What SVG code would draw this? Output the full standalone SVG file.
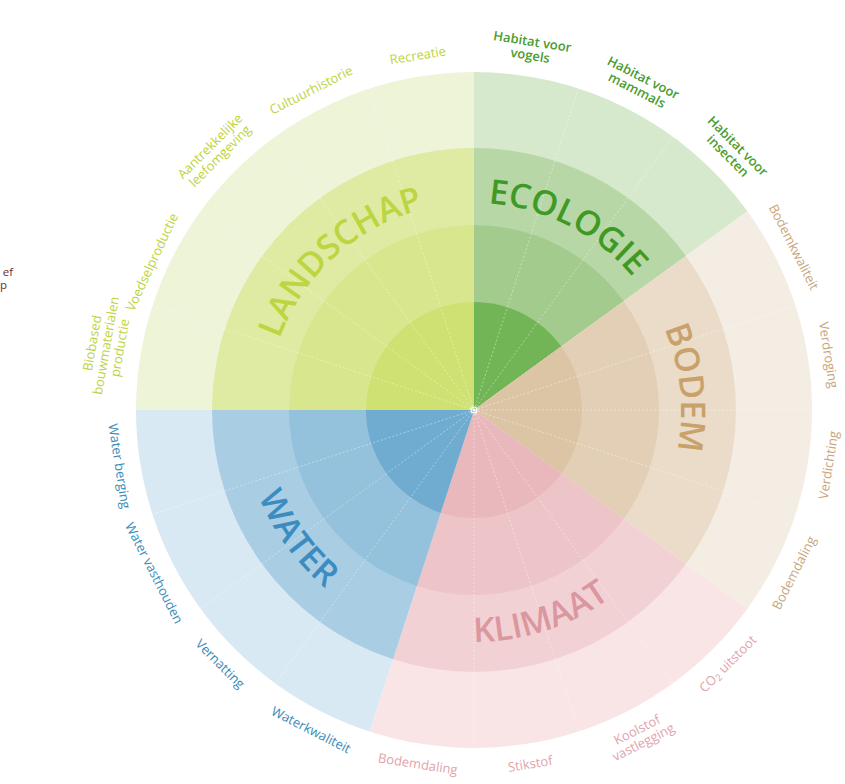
<svg xmlns="http://www.w3.org/2000/svg" width="845" height="784" viewBox="0 0 845 784">
<style>
.lbl{font-family:"Open Sans","Liberation Sans",sans-serif;font-size:13px;text-anchor:middle}
.ttl{font-family:"Open Sans","Liberation Sans",sans-serif;font-size:34px;font-weight:600;text-anchor:middle}
.ls{fill:#bcd442}.ec{fill:#4a9c2f;font-weight:600}.bo{fill:#c8a57a}.kl{fill:#e2a3ab}.wa{fill:#3b8ab8}
.grid{fill:none;stroke:#ffffff;stroke-opacity:0.45;stroke-width:0.9;stroke-dasharray:2 2}
</style>
<defs>
<path id="pLS" d="M271.52,453.04 A207,207 0 0 1 537.97,213.13"/>
<path id="pEC" d="M361.26,236.39 A207,207 0 0 1 680.72,399.17"/>
<path id="pBO" d="M558.20,220.90 A207,207 0 0 1 595.67,577.47"/>
<path id="pKL" d="M318.76,582.41 A232,232 0 0 0 700.93,458.24"/>
<path id="pWA" d="M262.06,315.64 A232,232 0 0 0 498.25,640.73"/>
</defs>
<rect width="845" height="784" fill="#ffffff"/>

<g id="landschap">
<path fill="#eef4d7" d="M474,410 L136,410 A338,338 0 0 1 474,72 Z"/>
<path fill="#dfeba3" d="M474,410 L212,410 A262,262 0 0 1 474,148 Z"/>
<path fill="#d8e78e" d="M474,410 L289,410 A185,185 0 0 1 474,225 Z"/>
<path fill="#cfe172" d="M474,410 L366,410 A108,108 0 0 1 474,302 Z"/>
</g>
<g id="ecologie">
<path fill="#d6e9cd" d="M474,410 L474,72 A338,338 0 0 1 747.448,211.329 Z"/>
<path fill="#b7d7a6" d="M474,410 L474,148 A262,262 0 0 1 685.962,256 Z"/>
<path fill="#a2cb8d" d="M474,410 L474,225 A185,185 0 0 1 623.668,301.26 Z"/>
<path fill="#72b557" d="M474,410 L474,302 A108,108 0 0 1 561.374,346.519 Z"/>
</g>
<g id="bodem">
<path fill="#f4ede3" d="M474,410 L747.448,211.329 A338,338 0 0 1 747.448,608.671 Z"/>
<path fill="#eadcc9" d="M474,410 L685.962,256 A262,262 0 0 1 685.962,564 Z"/>
<path fill="#e2cfb5" d="M474,410 L623.668,301.26 A185,185 0 0 1 623.668,518.74 Z"/>
<path fill="#dcc5a5" d="M474,410 L561.374,346.519 A108,108 0 0 1 561.374,473.481 Z"/>
</g>
<g id="klimaat">
<path fill="#f9e5e6" d="M474,410 L747.448,608.671 A338,338 0 0 1 369.552,731.457 Z"/>
<path fill="#f2d1d4" d="M474,410 L685.962,564 A262,262 0 0 1 393.038,659.177 Z"/>
<path fill="#edc4c8" d="M474,410 L623.668,518.74 A185,185 0 0 1 416.832,585.946 Z"/>
<path fill="#e9b8bd" d="M474,410 L561.374,473.481 A108,108 0 0 1 440.626,512.714 Z"/>
</g>
<g id="water">
<path fill="#d9e9f3" d="M474,410 L369.552,731.457 A338,338 0 0 1 136,410 Z"/>
<path fill="#a9cde3" d="M474,410 L393.038,659.177 A262,262 0 0 1 212,410 Z"/>
<path fill="#94c1db" d="M474,410 L416.832,585.946 A185,185 0 0 1 289,410 Z"/>
<path fill="#70abd0" d="M474,410 L440.626,512.714 A108,108 0 0 1 366,410 Z"/>
</g>

<g id="connectors">
<path class="grid" d="M474,410 L152.543,305.552 M474,410 L200.552,211.329 M474,410 L275.329,136.552 M474,410 L369.552,88.543 M474,410 L578.448,88.543 M474,410 L672.671,136.552 M474,410 L795.457,305.552 M474,410 L812,410 M474,410 L795.457,514.448 M474,410 L672.671,683.448 M474,410 L578.448,731.457 M474,410 L474,748 M474,410 L275.329,683.448 M474,410 L200.552,608.671 M474,410 L152.543,514.448"/>
<circle cx="474" cy="410" r="3" fill="none" stroke="#ffffff" stroke-width="1.2"/>
</g>

<g id="titles">
<text class="ttl" fill="#bcd540"><textPath href="#pLS" startOffset="50%">LANDSCHAP</textPath></text>
<text class="ttl" fill="#3f9a25"><textPath href="#pEC" startOffset="50%">ECOLOGIE</textPath></text>
<text class="ttl" fill="#c9a16b"><textPath href="#pBO" startOffset="50%">BODEM</textPath></text>
<text class="ttl" fill="#db979f"><textPath href="#pKL" startOffset="50%">KLIMAAT</textPath></text>
<text class="ttl" fill="#3b8cc0"><textPath href="#pWA" startOffset="50%">WATER</textPath></text>
</g>

<g id="labels">
<text class="lbl ls" transform="translate(106,345.5) rotate(-80)"><tspan x="0" y="-9.5">Biobased</tspan><tspan x="0" y="4.5">bouwmaterialen</tspan><tspan x="0" y="18.5">productie</tspan></text>
<text class="lbl ls" transform="translate(152,262) rotate(-65)"><tspan x="0" y="4.5">Voedselproductie</tspan></text>
<text class="lbl ls" transform="translate(215,151) rotate(-45)"><tspan x="0" y="-2.5">Aantrekkelijke</tspan><tspan x="0" y="11.5">leefomgeving</tspan></text>
<text class="lbl ls" transform="translate(311.02,90.13) rotate(-27)"><tspan x="0" y="4.5">Cultuurhistorie</tspan></text>
<text class="lbl ls" transform="translate(417.84,55.42) rotate(-9)"><tspan x="0" y="4.5">Recreatie</tspan></text>
<text class="lbl ec" transform="translate(531.3,48.5) rotate(9)"><tspan x="0" y="-2.5">Habitat voor</tspan><tspan x="0" y="11.5">vogels</tspan></text>
<text class="lbl ec" transform="translate(640.2,84) rotate(27)"><tspan x="0" y="-2.5">Habitat voor</tspan><tspan x="0" y="11.5">mammals</tspan></text>
<text class="lbl ec" transform="translate(732.8,151) rotate(45)"><tspan x="0" y="-2.5">Habitat voor</tspan><tspan x="0" y="11.5">insecten</tspan></text>
<text class="lbl bo" transform="translate(793.87,247.02) rotate(63)"><tspan x="0" y="4.5">Bodemkwaliteit</tspan></text>
<text class="lbl bo" transform="translate(828.58,355) rotate(81)"><tspan x="0" y="4.5">Verdroging</tspan></text>
<text class="lbl bo" transform="translate(828.58,465) rotate(-81)"><tspan x="0" y="4.5">Verdichting</tspan></text>
<text class="lbl bo" transform="translate(793.87,572.98) rotate(-63)"><tspan x="0" y="4.5">Bodemdaling</tspan></text>
<text class="lbl kl" transform="translate(727.85,663.85) rotate(-45)"><tspan x="0" y="4.5">CO<tspan font-size="9.5" dy="2">2</tspan><tspan dy="-2"> uitstoot</tspan></tspan></text>
<text class="lbl kl" transform="translate(640.2,736) rotate(-27)"><tspan x="0" y="-2.5">Koolstof</tspan><tspan x="0" y="11.5">vastlegging</tspan></text>
<text class="lbl kl" transform="translate(530.16,764) rotate(-9)"><tspan x="0" y="4.5">Stikstof</tspan></text>
<text class="lbl kl" transform="translate(417.84,764) rotate(9)"><tspan x="0" y="4.5">Bodemdaling</tspan></text>
<text class="lbl wa" transform="translate(311.02,729.87) rotate(27)"><tspan x="0" y="4.5">Waterkwaliteit</tspan></text>
<text class="lbl wa" transform="translate(220.15,663.85) rotate(45)"><tspan x="0" y="4.5">Vernatting</tspan></text>
<text class="lbl wa" transform="translate(154.13,572.98) rotate(63)"><tspan x="0" y="4.5">Water vasthouden</tspan></text>
<text class="lbl wa" transform="translate(119.42,466.16) rotate(81)"><tspan x="0" y="4.5">Water berging</tspan></text>
</g>

<g id="fragment" font-family="Open Sans, Liberation Sans, sans-serif" font-size="11.5" fill="#6b2d2d" text-anchor="end">
<text x="13" y="276">ef</text>
<text x="7" y="289">p</text>
</g>
</svg>
